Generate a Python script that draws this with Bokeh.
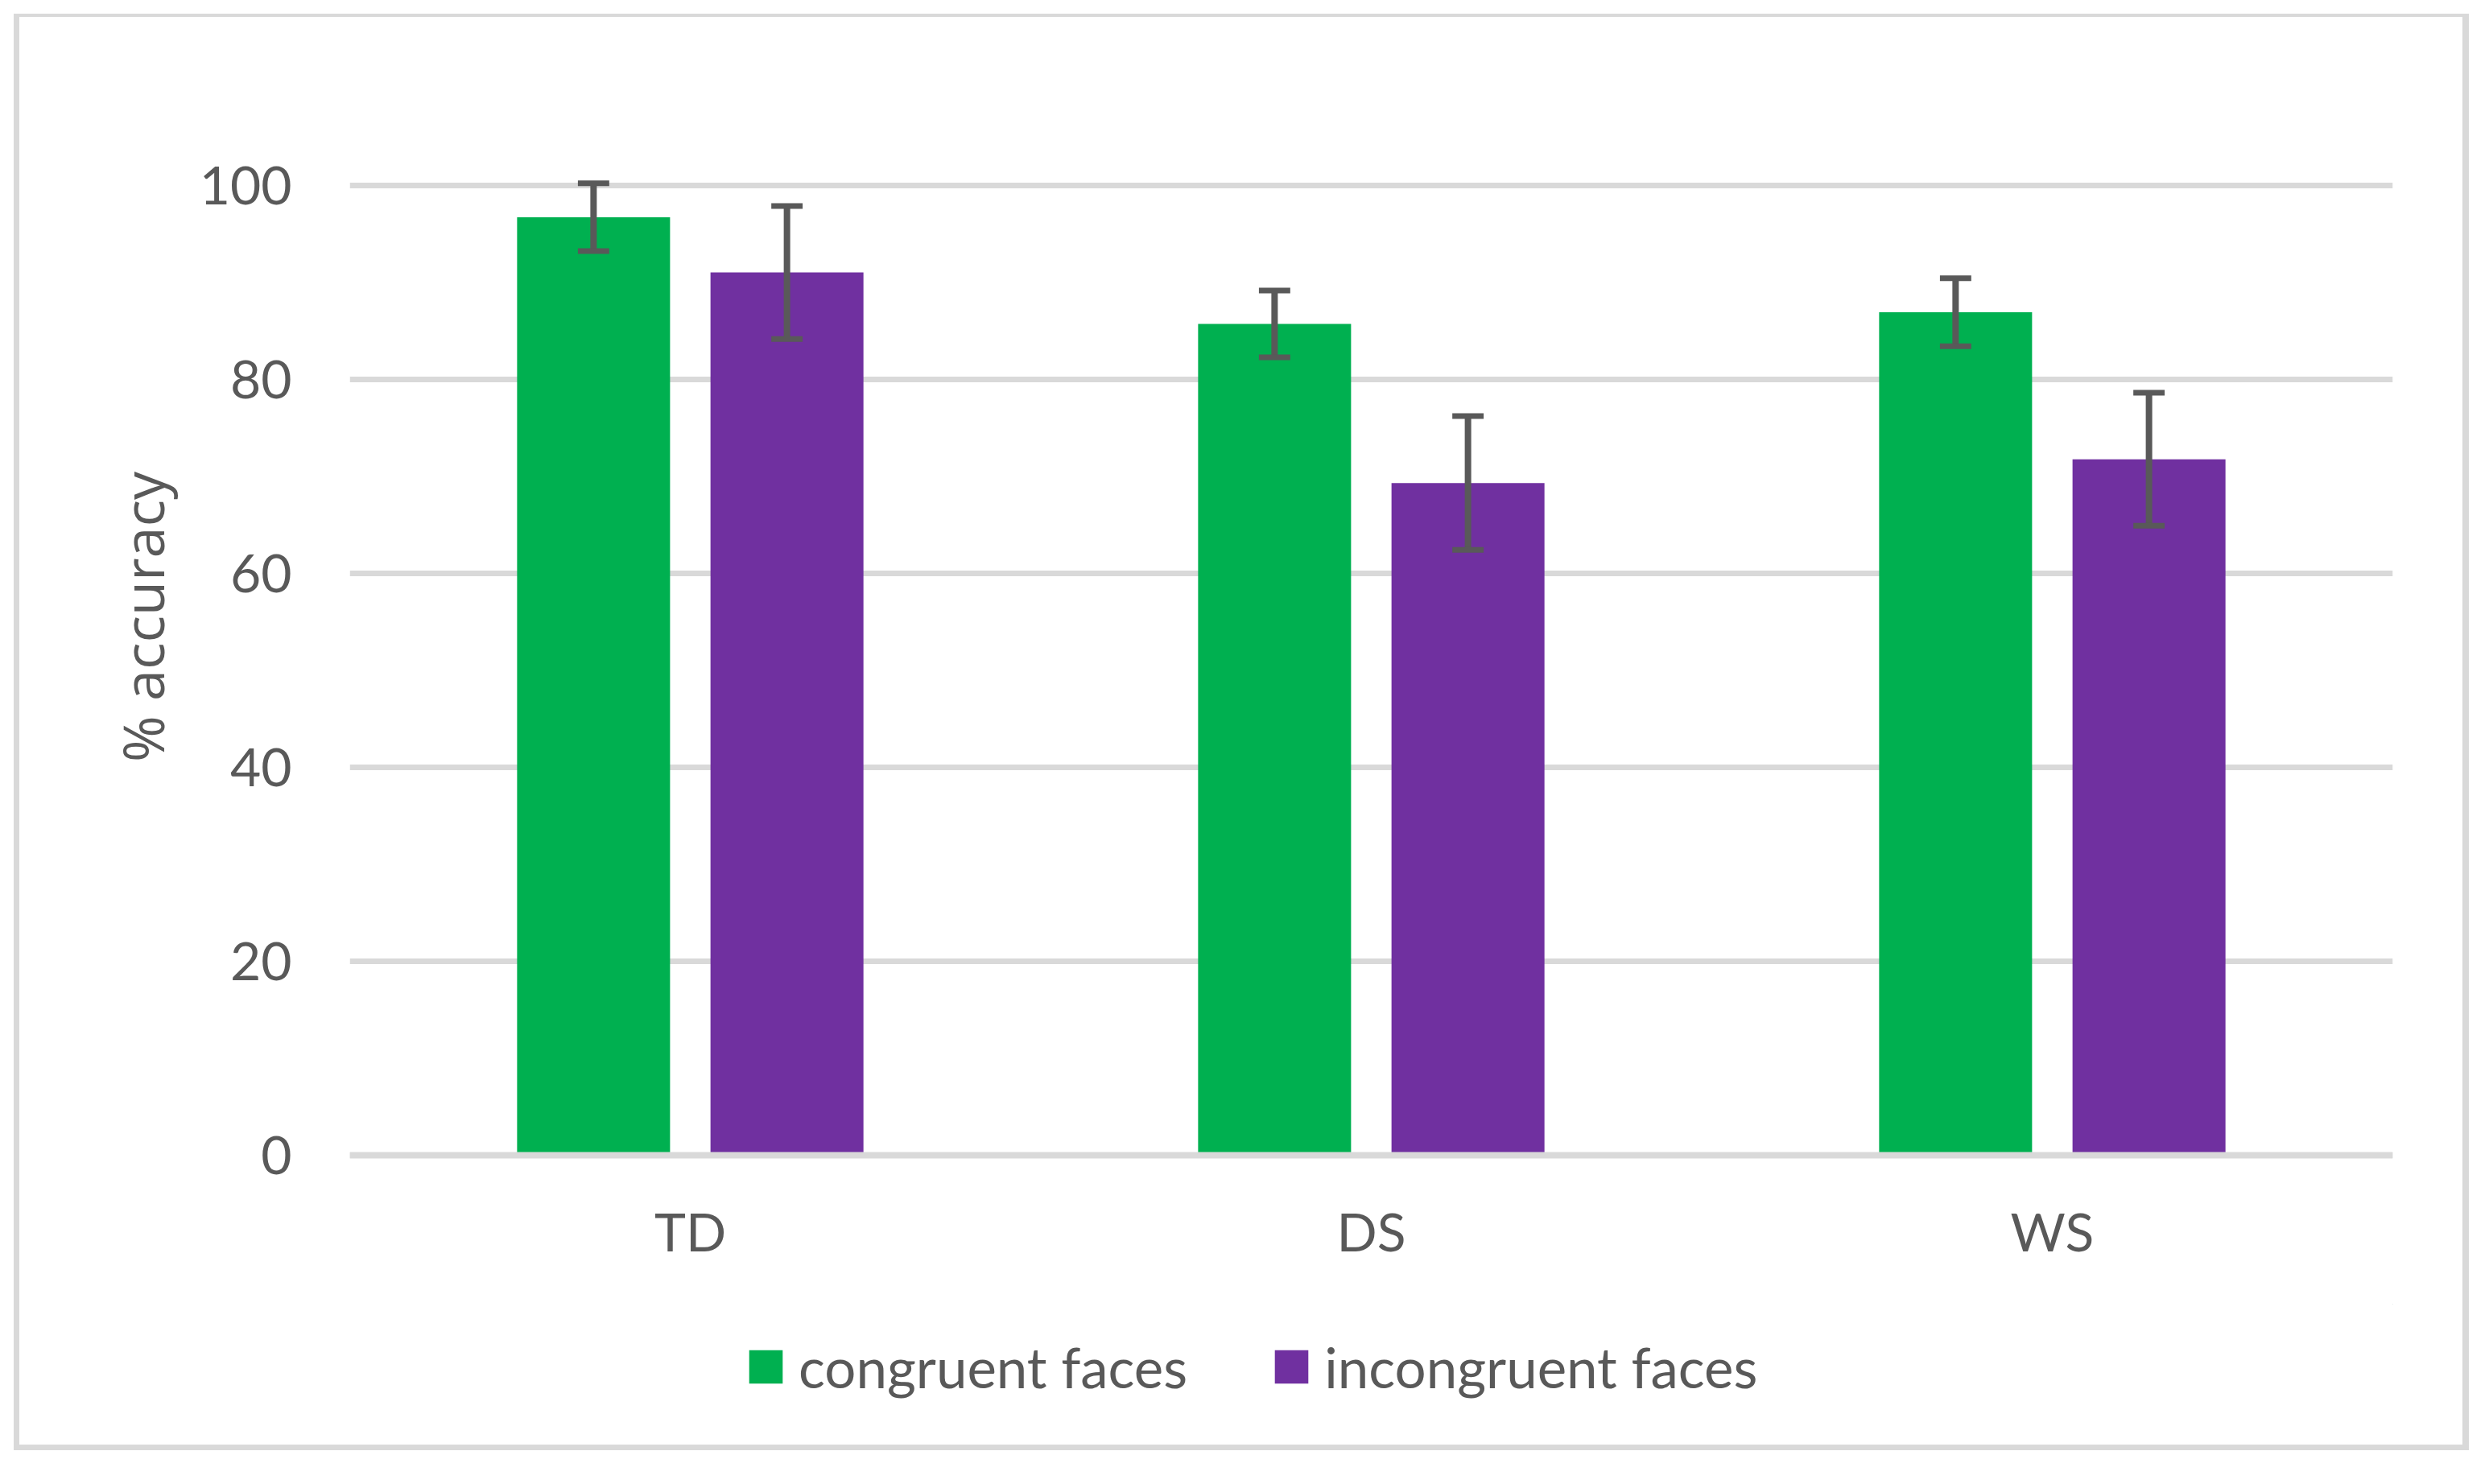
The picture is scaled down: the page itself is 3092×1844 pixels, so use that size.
from bokeh.plotting import figure
from bokeh.layouts import column
from bokeh.models import (ColumnDataSource, FactorRange, Range1d, FixedTicker, Legend, LegendItem, Span)
from bokeh.transform import dodge
from bokeh.embed import file_html
from bokeh.resources import INLINE

groups = ["TD", "DS", "WS"]
congruent = [96.7, 85.7, 86.9]
congruent_err = [3.5, 3.45, 3.5]
incongruent = [91.0, 69.3, 71.75]
incongruent_err = [6.85, 6.9, 6.85]
y_ticks = [0, 20, 40, 60, 80, 100]
series_names = ["congruent faces", "incongruent faces"]

GREEN = "#00b050"
PURPLE = "#7030a0"
TEXT = "#595959"
GRID = "#d9d9d9"
ERR = "#595959"

src = ColumnDataSource(dict(
    g=groups,
    c=congruent,
    c_lo=[v - e for v, e in zip(congruent, congruent_err)],
    c_hi=[v + e for v, e in zip(congruent, congruent_err)],
    i=incongruent,
    i_lo=[v - e for v, e in zip(incongruent, incongruent_err)],
    i_hi=[v + e for v, e in zip(incongruent, incongruent_err)],
))

# ---------------- main chart ----------------
p = figure(width=3050, height=1603, output_backend="svg", toolbar_location=None,
           x_range=FactorRange(*groups, range_padding=0), y_range=Range1d(-1, 112),
           min_border_left=410, min_border_right=102, min_border_top=64, min_border_bottom=177)
p.styles = {"border-style": "solid", "border-color": GRID,
            "border-width": "4px 8px 0px 7px"}
p.outline_line_color = None
p.background_fill_color = "white"
p.border_fill_color = "white"

OFF = 0.142
W = 0.2246
CAP = 0.023

r_c = p.vbar(x=dodge("g", -OFF, range=p.x_range), top="c", bottom=0, width=W, source=src,
             fill_color=GREEN, line_color=None)
r_i = p.vbar(x=dodge("g", OFF, range=p.x_range), top="i", bottom=0, width=W, source=src,
             fill_color=PURPLE, line_color=None)

zero = Span(location=0, dimension="width", line_color=GRID, line_width=8)
p.add_layout(zero)

for off, lo, hi in ((-OFF, "c_lo", "c_hi"), (OFF, "i_lo", "i_hi")):
    p.segment(x0=dodge("g", off, range=p.x_range), x1=dodge("g", off, range=p.x_range),
              y0=lo, y1=hi, source=src, line_color=ERR, line_width=8, line_cap="butt")
    for end in (lo, hi):
        p.segment(x0=dodge("g", off - CAP, range=p.x_range), x1=dodge("g", off + CAP, range=p.x_range),
                  y0=end, y1=end, source=src, line_color=ERR, line_width=7, line_cap="butt")

p.xgrid.grid_line_color = None
p.ygrid.grid_line_color = GRID
p.ygrid.grid_line_width = 7
p.yaxis.ticker = FixedTicker(ticks=y_ticks)

p.yaxis.axis_line_color = None
p.yaxis.major_tick_line_color = None
p.yaxis.minor_tick_line_color = None
p.yaxis.major_tick_out = 0
p.yaxis.major_tick_in = 0
p.yaxis.major_label_standoff = 72
p.yaxis.major_label_text_font = "Lato"
p.yaxis.major_label_text_font_size = "66px"
p.yaxis.major_label_text_color = TEXT
p.yaxis.axis_label = "% accuracy"
p.yaxis.axis_label_text_font = "Open Sans"
p.yaxis.axis_label_text_font_size = "70px"
p.yaxis.axis_label_text_font_style = "normal"
p.yaxis.axis_label_text_color = TEXT
p.yaxis.axis_label_standoff = 20

p.xaxis.axis_line_color = None
p.xaxis.major_tick_line_color = None
p.xaxis.minor_tick_line_color = None
p.xaxis.major_tick_out = 0
p.xaxis.major_tick_in = 0
p.xaxis.major_label_standoff = 42
p.xaxis.major_label_text_font = "Lato"
p.xaxis.major_label_text_font_size = "66px"
p.xaxis.major_label_text_color = TEXT

# ---------------- legend strip ----------------
p2 = figure(width=3050, height=182, output_backend="svg", toolbar_location=None,
            x_range=Range1d(0, 1), y_range=Range1d(0, 1),
            x_axis_location=None, y_axis_location=None, min_border=0)
p2.styles = {"border-style": "solid", "border-color": GRID,
             "border-width": "0px 8px 7px 7px"}
p2.outline_line_color = None
p2.grid.visible = False
p2.background_fill_color = "white"
p2.border_fill_color = "white"

# swatch renderers for the legend (their single point lies outside the visible range)
swatch = ColumnDataSource(dict(x=[5], top=[5]))
k_c = p2.vbar(x="x", top="top", bottom=4, width=0.1, source=swatch, fill_color=GREEN, line_color=None)
k_i = p2.vbar(x="x", top="top", bottom=4, width=0.1, source=swatch, fill_color=PURPLE, line_color=None)

legend = Legend(items=[LegendItem(label=series_names[0], renderers=[k_c]),
                       LegendItem(label=series_names[1], renderers=[k_i])],
                orientation="horizontal", location=(491, 59),
                glyph_width=52, glyph_height=52, label_standoff=15, spacing=103,
                label_height=90, padding=0, margin=0, border_line_color=None,
                background_fill_alpha=0,
                label_text_font="Lato", label_text_font_size="69px", label_text_color=TEXT)
p2.add_layout(legend, "center")

layout = column(p, p2, spacing=0, styles={"margin-left": "17px", "margin-top": "17px"})

open("out.html", "w").write(file_html(layout, INLINE))
